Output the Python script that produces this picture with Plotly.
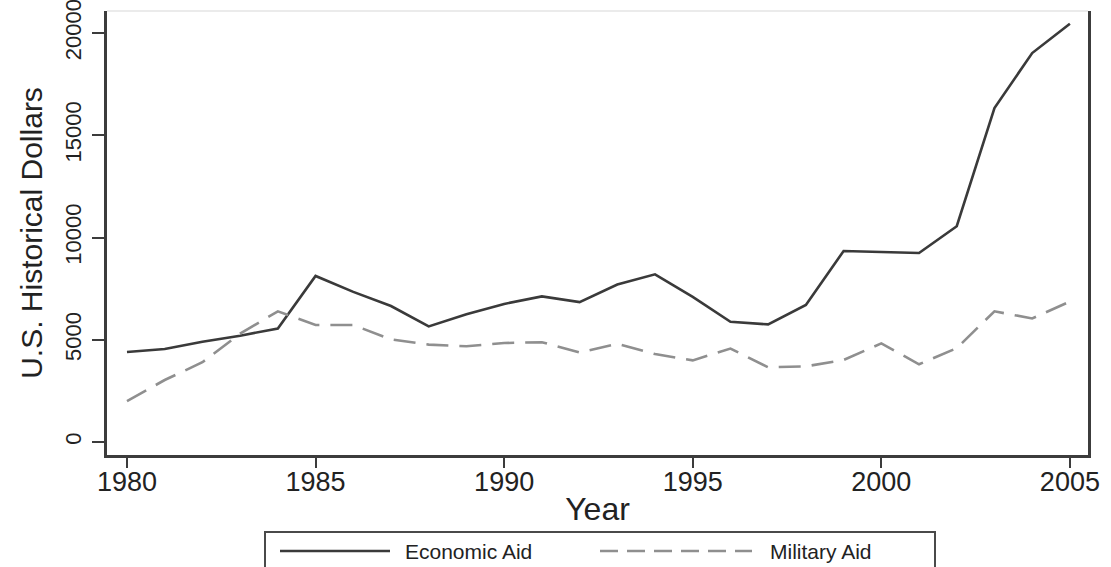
import plotly.graph_objects as go

# Annual U.S. aid, historical dollars
years = list(range(1980, 2006))
economic_aid = [4400, 4550, 4900, 5200, 5550, 8120, 7340, 6650, 5650, 6250,
                6750, 7120, 6840, 7700, 8200, 7100, 5880, 5750, 6700, 9340,
                9290, 9240, 10550, 16330, 19020, 20450]
military_aid = [2000, 3030, 3900, 5300, 6390, 5720, 5720, 5020, 4760, 4680,
                4840, 4880, 4380, 4800, 4300, 3990, 4570, 3650, 3700, 4010,
                4820, 3800, 4590, 6390, 6040, 6870]

y_ticks = [0, 5000, 10000, 15000, 20000]
x_ticks = [1980, 1985, 1990, 1995, 2000, 2005]
series_names = ["Economic Aid", "Military Aid"]

FONT = "Liberation Sans, Arial, sans-serif"
AXIS_COLOR = "#3c3c3c"
ECON_COLOR = "#3a3a3a"
MIL_COLOR = "#8f8f8f"
MIL_DASH = "22px,11px"

W, H = 1111, 567
L, R, T, B = 107, 23, 11, 112
pw, ph = W - L - R, H - T - B


def px_x(p):
    return (p - L) / pw


def px_y(p):
    return (H - B - p) / ph


fig = go.Figure()
fig.add_trace(go.Scatter(x=years, y=economic_aid, mode="lines", name=series_names[0],
                         line=dict(color=ECON_COLOR, width=2.6), showlegend=False))
fig.add_trace(go.Scatter(x=years, y=military_aid, mode="lines", name=series_names[1],
                         line=dict(color=MIL_COLOR, width=2.6, dash=MIL_DASH),
                         showlegend=False))

shapes = [
    # faint top edge of the plot region
    dict(type="line", xref="paper", yref="paper", x0=0, x1=1, y0=1, y1=1,
         line=dict(color="#e4e4e4", width=1.5)),
    # legend box
    dict(type="rect", xref="paper", yref="paper",
         x0=px_x(265), x1=px_x(935), y0=px_y(585), y1=px_y(532),
         line=dict(color="#4a4a4a", width=2), fillcolor="white", layer="below"),
    # legend samples
    dict(type="line", xref="paper", yref="paper",
         x0=px_x(280), x1=px_x(390), y0=px_y(551), y1=px_y(551),
         line=dict(color=ECON_COLOR, width=2.6)),
    dict(type="line", xref="paper", yref="paper",
         x0=px_x(600), x1=px_x(752), y0=px_y(551), y1=px_y(551),
         line=dict(color=MIL_COLOR, width=2.6, dash="18px,9px")),
]

annotations = [
    dict(text=series_names[0], xref="paper", yref="paper", x=px_x(403), y=px_y(551),
         xanchor="left", yanchor="middle", showarrow=False,
         font=dict(family=FONT, size=21, color="#222222")),
    dict(text=series_names[1], xref="paper", yref="paper", x=px_x(768), y=px_y(551),
         xanchor="left", yanchor="middle", showarrow=False,
         font=dict(family=FONT, size=21, color="#222222")),
]

fig.update_layout(
    width=W, height=H,
    margin=dict(l=L, r=R, t=T, b=B, autoexpand=False),
    paper_bgcolor="white", plot_bgcolor="white",
    font=dict(family=FONT, color="#222222"),
    shapes=shapes, annotations=annotations,
    xaxis=dict(
        range=[1979.47, 2005.48], tickvals=x_ticks, ticktext=[str(v) for v in x_ticks],
        showgrid=False, zeroline=False, automargin=False,
        showline=True, linecolor=AXIS_COLOR, linewidth=2.5,
        ticks="outside", ticklen=10, tickwidth=2, tickcolor=AXIS_COLOR,
        tickfont=dict(family=FONT, size=27, color="#222222"),
        ticklabelstandoff=-9,
        title=dict(text="Year", font=dict(family=FONT, size=32, color="#222222"), standoff=2),
    ),
    yaxis=dict(
        range=[-636, 21076], tickvals=y_ticks, ticktext=[str(v) for v in y_ticks],
        showgrid=False, zeroline=False, automargin=False,
        showline=True, linecolor=AXIS_COLOR, linewidth=2.5, mirror=True,
        ticks="outside", ticklen=12, tickwidth=2, tickcolor=AXIS_COLOR,
        tickangle=-90, ticklabeloverflow="allow",
        tickfont=dict(family=FONT, size=22, color="#222222"),
        ticklabelstandoff=2,
        title=dict(text="U.S. Historical Dollars",
                   font=dict(family=FONT, size=30, color="#222222"), standoff=10),
    ),
)

fig.write_html("out.html")
